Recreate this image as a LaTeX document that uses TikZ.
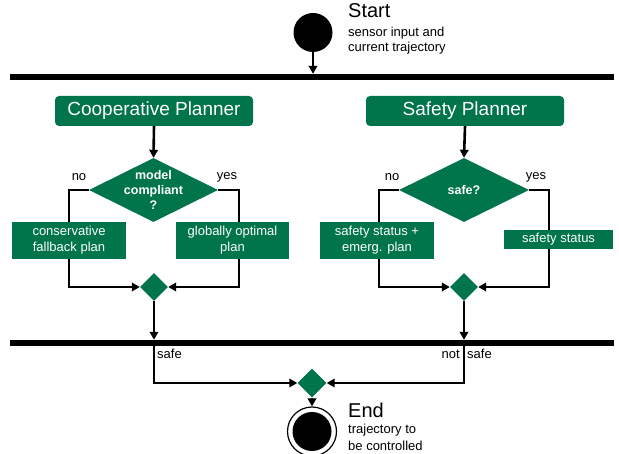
\documentclass[tikz,border=0pt]{standalone}
\usepackage{fontspec}
\setmainfont{Liberation Sans}
\usetikzlibrary{shapes.geometric,arrows.meta}
\definecolor{dgreen}{RGB}{0,116,74}
\begin{document}
\begin{tikzpicture}[x=1pt,y=-1pt,
  conn/.style={line width=2.6pt},
  arr/.style={conn,-{Triangle[length=8pt,width=8.5pt]}},
  syncbar/.style={fill=black,draw=none,inner sep=0pt,minimum width=604pt,minimum height=6pt},
  planner/.style={fill=dgreen,rounded corners=4pt,text=white,inner sep=0pt,minimum width=198pt,minimum height=30pt,font=\fontsize{19}{22}\selectfont},
  action/.style={fill=dgreen,text=white,inner sep=0pt,font=\fontsize{13}{16}\selectfont,align=center},
  decision/.style={diamond,fill=dgreen,inner sep=0pt},
  dtext/.style={text=white,align=center,font=\fontsize{12.5}{15}\selectfont\bfseries},
  lbl/.style={font=\fontsize{13}{15}\selectfont,inner sep=0pt},
  title/.style={font=\fontsize{20}{24}\selectfont,inner sep=0pt,anchor=base west},
  sub/.style={font=\fontsize{13}{15}\selectfont,inner sep=0pt,anchor=base west}]
\useasboundingbox (0,0) rectangle (619,454);

% start
\node[circle,fill=black,minimum size=39pt,inner sep=0pt] (start) at (313,32.5) {};
\node[title] (starttitle) at (348,18) {Start};
\node[sub] (startsub1) at (348,37) {sensor input and};
\node[sub] (startsub2) at (348,52) {current trajectory};

% bars
\node[syncbar] (bar1) at (312,77) {};
\node[syncbar] (bar2) at (312,343) {};

% planners
\node[planner] (coop) at (154,111) {Cooperative Planner};
\node[planner] (safp) at (465,111) {Safety Planner};

% decisions
\node[decision,minimum width=129pt,minimum height=64pt] (d1) at (153.5,190) {};
\node[dtext] (d1t) at (153.5,190) {model\\compliant\\?};
\node[decision,minimum width=130pt,minimum height=64pt] (d2) at (464,190) {};
\node[dtext] (d2t) at (464,190) {safe?};

% merges
\node[decision,minimum width=28pt,minimum height=28pt] (m1) at (154,287) {};
\node[decision,minimum width=28pt,minimum height=28pt] (m2) at (464,287) {};
\node[decision,minimum width=29pt,minimum height=29pt] (em) at (312,383) {};

% end
\node[circle,draw=black,line width=1.2pt,fill=white,minimum size=49pt,inner sep=0pt] (endo) at (312,431.5) {};
\node[circle,fill=black,minimum size=39pt,inner sep=0pt] (endi) at (312,431.5) {};
\node[title] (endtitle) at (348,418) {End};
\node[sub] (endsub1) at (348,434) {trajectory to};
\node[sub] (endsub2) at (348,450) {be controlled};

% branch labels
\node[lbl] (no1) at (79,177) {no};
\node[lbl] (yes1) at (227,177) {yes};
\node[lbl] (no2) at (392,177) {no};
\node[lbl] (yes2) at (536,177) {yes};
\node[lbl,anchor=base west] (safe1) at (157,359) {safe};
\node[lbl,anchor=base east] (not2) at (460,359) {not};
\node[lbl,anchor=base west] (safe2) at (467,359) {safe};

% corner coordinates
\coordinate (c1a) at (69,190);
\coordinate (c1b) at (69,287);
\coordinate (c1c) at (239,190);
\coordinate (c1d) at (239,287);
\coordinate (c2a) at (379,190);
\coordinate (c2b) at (379,287);
\coordinate (c2c) at (549,190);
\coordinate (c2d) at (549,287);
\coordinate (b2l) at (154,343);
\coordinate (b2r) at (464,343);
\coordinate (e1) at (154,383);
\coordinate (e2) at (464,383);

% connectors
\draw[arr] (start.south) -- (start.south |- bar1.north);
\draw[arr] (coop.south) -- (d1.north);
\draw[arr] (safp.south) -- (d2.north);
\draw[arr] (d1.west) -- (c1a) -- (c1b) -- (m1.west);
\draw[arr] (d1.east) -- (c1c) -- (c1d) -- (m1.east);
\draw[arr] (d2.west) -- (c2a) -- (c2b) -- (m2.west);
\draw[arr] (d2.east) -- (c2c) -- (c2d) -- (m2.east);
\draw[arr] (m1.south) -- (m1.south |- bar2.north);
\draw[arr] (m2.south) -- (m2.south |- bar2.north);
\draw[arr] (b2l) -- (e1) -- (em.west);
\draw[arr] (b2r) -- (e2) -- (em.east);
\draw[arr] (em.south) -- (endo.north);

% action boxes (over the connectors)
\node[action,minimum width=114pt,minimum height=37pt] (cons) at (69,240.5) {conservative\\fallback plan};
\node[action,minimum width=113pt,minimum height=37pt] (glob) at (232.5,240.5) {globally optimal\\plan};
\node[action,minimum width=114pt,minimum height=37pt] (emer) at (377,240.5) {safety status +\\emerg. plan};
\node[action,minimum width=109pt,minimum height=19pt] (stat) at (558.5,239.5) {safety status};
\end{tikzpicture}
\end{document}
